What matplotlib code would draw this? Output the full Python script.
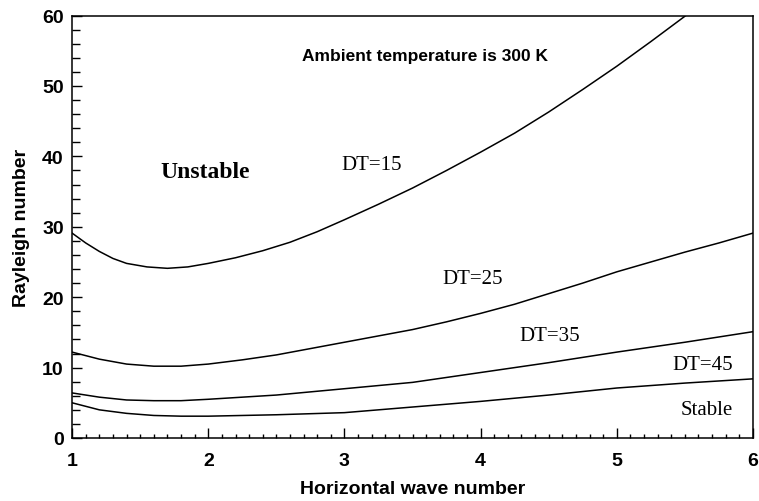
import numpy as np
import matplotlib
matplotlib.use('Agg')
from matplotlib import pyplot as plt
from matplotlib.ticker import MultipleLocator

# curves (x = horizontal wave number, y = Rayleigh number)
x15 = [1.0, 1.05, 1.1, 1.2, 1.3, 1.4, 1.55, 1.7, 1.85, 2.0, 2.2, 2.4, 2.6, 2.8, 3.0, 3.25,
       3.5, 3.75, 4.0, 4.25, 4.5, 4.75, 5.0, 5.25, 5.5, 5.6]
y15 = [29.1, 28.4, 27.7, 26.5, 25.5, 24.8, 24.3, 24.1, 24.3, 24.8, 25.6, 26.6, 27.8, 29.3, 31.0, 33.2,
       35.5, 38.0, 40.6, 43.3, 46.3, 49.5, 52.8, 56.3, 59.9, 61.4]
x25 = [1.0, 1.2, 1.4, 1.6, 1.8, 2.0, 2.25, 2.5, 2.75, 3.0, 3.25, 3.5, 3.75, 4.0, 4.25,
       4.5, 4.75, 5.0, 5.25, 5.5, 5.75, 6.0]
y25 = [12.2, 11.2, 10.5, 10.2, 10.2, 10.5, 11.1, 11.8, 12.7, 13.6, 14.5, 15.4, 16.5, 17.7, 19.0,
       20.5, 22.0, 23.6, 25.0, 26.4, 27.7, 29.1]
x35 = [1.0, 1.2, 1.4, 1.6, 1.8, 2.0, 2.5, 3.0, 3.5, 4.0, 4.5, 5.0, 5.5, 6.0]
y35 = [6.4, 5.8, 5.4, 5.3, 5.3, 5.5, 6.1, 7.0, 7.9, 9.3, 10.7, 12.2, 13.6, 15.1]
x45 = [1.0, 1.2, 1.4, 1.6, 1.8, 2.0, 2.5, 3.0, 3.5, 4.0, 4.5, 5.0, 5.5, 6.0]
y45 = [5.0, 4.0, 3.5, 3.2, 3.1, 3.1, 3.3, 3.6, 4.4, 5.2, 6.1, 7.1, 7.8, 8.4]

labels = ['DT=15', 'DT=25', 'DT=35', 'DT=45']
label_x = [3.20, 3.94, 4.51, 5.63]
label_y = [38.9, 22.6, 14.5, 10.5]

sans = 'Liberation Sans'
serif = 'Liberation Serif'

fig = plt.figure(figsize=(7.59, 5.02), dpi=100)
ax = fig.add_axes([0.095, 0.1255, 0.897, 0.8415])

for xs, ys in [(x15, y15), (x25, y25), (x35, y35), (x45, y45)]:
    ax.plot(xs, ys, color='black', lw=1.1)

ax.set_xlim(1, 6)
ax.set_ylim(0, 60)
ax.xaxis.set_major_locator(MultipleLocator(1))
ax.xaxis.set_minor_locator(MultipleLocator(0.1))
ax.yaxis.set_major_locator(MultipleLocator(10))
ax.yaxis.set_minor_locator(MultipleLocator(2))
ax.tick_params(which='both', direction='in', width=1.0)
ax.tick_params(axis='both', which='major', length=7)
ax.tick_params(axis='x', which='major', pad=10)
ax.tick_params(axis='y', which='major', pad=6)
ax.tick_params(axis='y', which='minor', length=5.5)
ax.tick_params(axis='x', which='minor', length=3)
for s in ax.spines.values():
    s.set_linewidth(1.1)

for lab in ax.get_xticklabels() + ax.get_yticklabels():
    lab.set_fontfamily(sans)
    lab.set_fontweight('bold')
    lab.set_fontsize(14)

ax.set_xlabel('Horizontal wave number', fontfamily=sans, fontweight='bold', fontsize=14, labelpad=8)
ax.set_ylabel('Rayleigh number', fontfamily=sans, fontweight='bold', fontsize=14, labelpad=9)

ax.text(3.59, 54.3, 'Ambient temperature is 300 K', fontfamily=sans, fontweight='bold',
        fontsize=12.5, ha='center', va='center')
ax.text(1.98, 37.9, 'Unstable', fontfamily=serif, fontweight='bold', fontsize=17,
        ha='center', va='center')
for t, tx, ty in zip(labels, label_x, label_y):
    ax.text(tx, ty, t, fontfamily=serif, fontsize=15, ha='center', va='center')
ax.text(5.66, 4.1, 'Stable', fontfamily=serif, fontsize=15, ha='center', va='center')

fig.savefig('out.png', dpi=100)
